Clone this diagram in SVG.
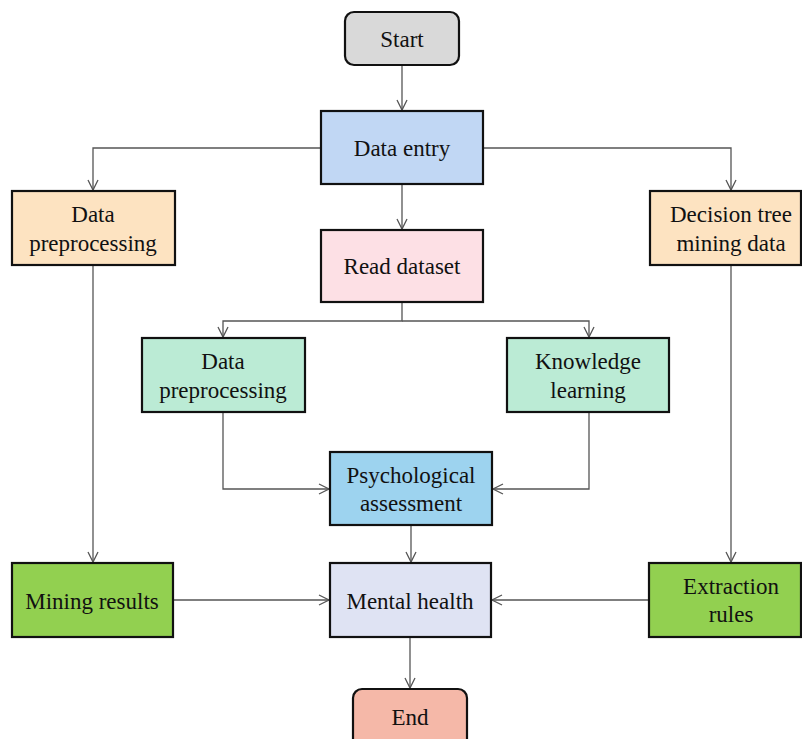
<svg xmlns="http://www.w3.org/2000/svg" width="802" height="739" viewBox="0 0 802 739">
<style>
.b{stroke:#111;stroke-width:2.2}
text{font-family:'Liberation Serif','DejaVu Serif','Times New Roman',serif;font-size:23px;fill:#111;text-anchor:middle}
.c{fill:none;stroke:#555;stroke-width:1.3;marker-end:url(#a)}
</style>
<defs>
<marker id="a" markerWidth="14" markerHeight="14" refX="11" refY="6" orient="auto" markerUnits="userSpaceOnUse">
<path d="M1,1 L11,6 L1,11" fill="none" stroke="#555" stroke-width="1.3"/>
</marker>
</defs>
<rect width="802" height="739" fill="#fff"/>
<g id="connectors">
<path class="c" d="M402,65 V110"/>
<path class="c" d="M321,148 H93 V190"/>
<path class="c" d="M483,148 H731 V190"/>
<path class="c" d="M402,184 V229"/>
<path class="c" d="M402,302 V321 H223 V337"/>
<path class="c" d="M402,321 H589 V337"/>
<path class="c" d="M223,412 V489 H329"/>
<path class="c" d="M589,412 V489 H493"/>
<path class="c" d="M411,525 V562"/>
<path class="c" d="M93,265 V562"/>
<path class="c" d="M731,265 V562"/>
<path class="c" d="M173,600 H329"/>
<path class="c" d="M649,600 H492"/>
<path class="c" d="M410,637 V688"/>
</g>
<g id="start"><rect class="b" x="345" y="12" width="114" height="53" rx="9" fill="#d9d9d9"/><text x="402" y="47">Start</text></g>
<g id="data-entry"><rect class="b" x="321" y="111" width="162" height="73" fill="#c1d7f4"/><text x="402" y="156">Data entry</text></g>
<g id="data-preprocessing-left"><rect class="b" x="12" y="191" width="163" height="74" fill="#fde3c1"/><text x="93" y="222">Data</text><text x="93" y="251">preprocessing</text></g>
<g id="decision-tree"><rect class="b" x="650" y="191" width="151" height="74" fill="#fde3c1"/><text x="731" y="222">Decision tree</text><text x="731" y="251">mining data</text></g>
<g id="read-dataset"><rect class="b" x="321" y="230" width="162" height="72" fill="#fde0e5"/><text x="402" y="274">Read dataset</text></g>
<g id="data-preprocessing-mid"><rect class="b" x="142" y="338" width="163" height="74" fill="#bbebd5"/><text x="223" y="369">Data</text><text x="223" y="398">preprocessing</text></g>
<g id="knowledge-learning"><rect class="b" x="507" y="338" width="162" height="74" fill="#bbebd5"/><text x="588" y="369">Knowledge</text><text x="588" y="398">learning</text></g>
<g id="psychological-assessment"><rect class="b" x="330" y="452" width="162" height="73" fill="#9dd3ef"/><text x="411" y="483">Psychological</text><text x="411" y="511">assessment</text></g>
<g id="mining-results"><rect class="b" x="12" y="563" width="161" height="74" fill="#92d050"/><text x="92" y="609">Mining results</text></g>
<g id="mental-health"><rect class="b" x="330" y="563" width="161" height="74" fill="#dfe3f3"/><text x="410" y="609">Mental health</text></g>
<g id="extraction-rules"><rect class="b" x="649" y="563" width="152" height="74" fill="#92d050"/><text x="731" y="594">Extraction</text><text x="731" y="622">rules</text></g>
<g id="end"><rect class="b" x="353" y="689" width="114" height="60" rx="9" fill="#f5b8a8"/><text x="410" y="725">End</text></g>
</svg>
